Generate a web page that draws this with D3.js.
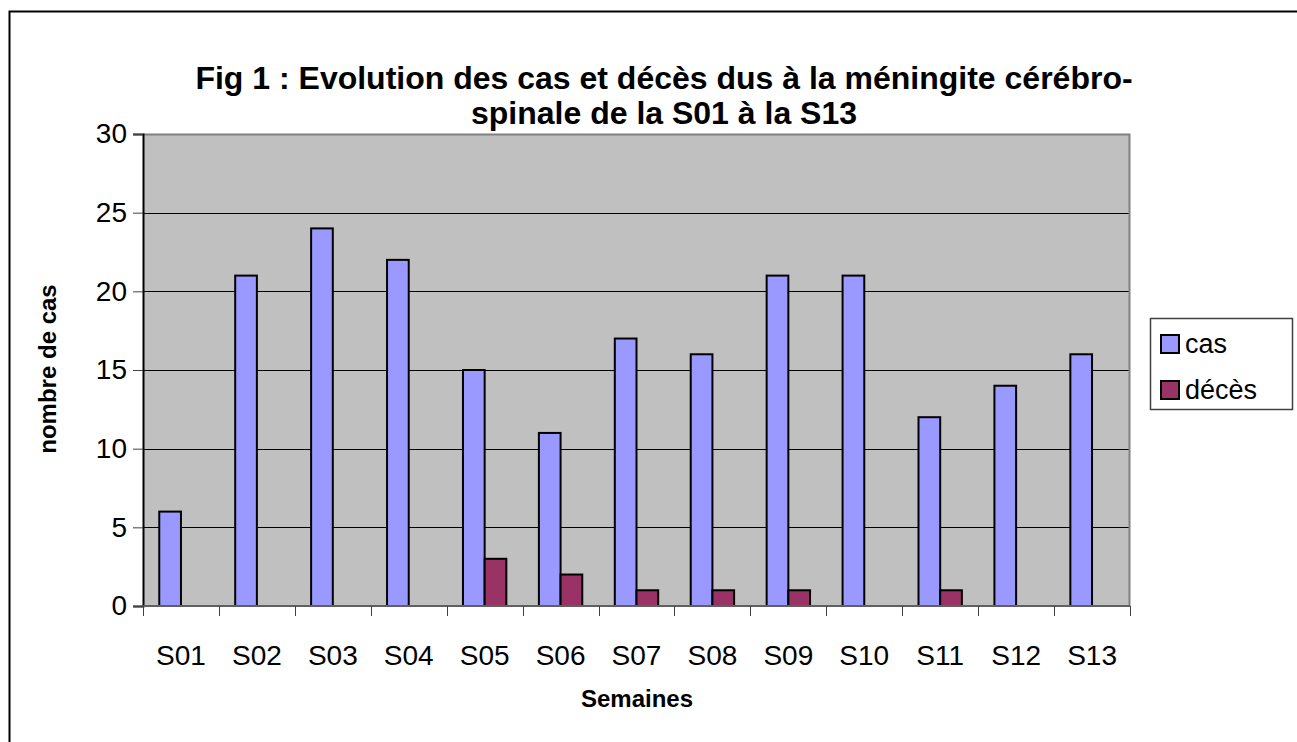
<!DOCTYPE html>
<html>
<head>
<meta charset="utf-8">
<script src="https://cdn.jsdelivr.net/npm/d3@7"></script>
<style>
  body { margin: 0; background: #fff; }
  text { font-family: Arial, "Liberation Sans", sans-serif; }
</style>
</head>
<body>
<div id="svg"></div>
<script>
var weeks = ['S01','S02','S03','S04','S05','S06','S07','S08','S09','S10','S11','S12','S13'];
var cas = [6, 21, 24, 22, 15, 11, 17, 16, 21, 21, 12, 14, 16];
var deces = [0, 0, 0, 0, 3, 2, 1, 1, 1, 0, 1, 0, 0];
var seriesNames = ['cas', 'décès'];
var yTicks = [0, 5, 10, 15, 20, 25, 30];

var w = 1297, h = 742;
var plot = { left: 143, right: 1130, top: 134, bottom: 606 };
var colors = ['#9999FF', '#993366'];

const svg = d3.select('#svg').append('svg')
  .attr('width', w).attr('height', h);

// outer frame
svg.append('rect')
  .attr('x', 9.5).attr('y', 11.5)
  .attr('width', 1300).attr('height', 760)
  .attr('fill', 'white').attr('stroke', 'black').attr('stroke-width', 2);

var x = d3.scaleBand().domain(weeks).range([plot.left, plot.right]).paddingInner(0).paddingOuter(0);
var y = d3.scaleLinear().domain([0, 30]).range([plot.bottom, plot.top]);

// bar width per Excel gap width 150%
var barW = x.bandwidth() / 3.5;
var x1 = d3.scaleBand().domain(seriesNames).range([0, 2 * barW]);

svg.append('rect')
  .attr('x', plot.left).attr('y', plot.top)
  .attr('width', plot.right - plot.left).attr('height', plot.bottom - plot.top)
  .attr('fill', '#C0C0C0');

// gridlines
svg.append('g').selectAll('line')
  .data(yTicks.filter(d => d > 0 && d < 30))
  .enter().append('line')
  .attr('x1', plot.left).attr('x2', plot.right)
  .attr('y1', d => Math.round(y(d)) + 0.5).attr('y2', d => Math.round(y(d)) + 0.5)
  .attr('stroke', 'black').attr('stroke-width', 1);

// plot border top/right
svg.append('path')
  .attr('d', `M${plot.left},${plot.top + 0.5}H${plot.right - 0.5}V${plot.bottom}`)
  .attr('fill', 'none').attr('stroke', '#808080').attr('stroke-width', 2);

var rows = weeks.map((wk, i) => ({ week: wk, values: [cas[i], deces[i]] }));

var groups = svg.append('g').selectAll('g')
  .data(rows).enter().append('g')
  .attr('transform', d => `translate(${x(d.week) + 1.5 * barW / 2},0)`);

groups.selectAll('rect')
  .data(d => d.values.map((v, j) => ({ key: seriesNames[j], v: v, j: j })).filter(e => e.v > 0))
  .enter().append('rect')
  .attr('x', d => x1(d.key))
  .attr('y', d => y(d.v))
  .attr('width', barW)
  .attr('height', d => y(0) - y(d.v))
  .attr('fill', d => colors[d.j])
  .attr('stroke', 'black').attr('stroke-width', 2);

// axes
var yAxis = svg.append('g')
  .attr('transform', `translate(${plot.left},0)`)
  .call(d3.axisLeft(y).tickValues(yTicks).tickSize(10).tickPadding(6));
yAxis.select('.domain').attr('stroke', 'black').attr('stroke-width', 2);
yAxis.selectAll('.tick line').attr('stroke', '#404040');
yAxis.selectAll('text').attr('font-size', 28).attr('fill', 'black');

var xAxis = svg.append('g')
  .attr('transform', `translate(0,${plot.bottom})`)
  .call(d3.axisBottom(x).tickSize(0).tickPadding(0));
xAxis.select('.domain').remove();
xAxis.selectAll('text').attr('font-size', 28).attr('fill', 'black').attr('dy', null).attr('y', 59);
svg.append('line')
  .attr('x1', plot.left).attr('x2', plot.right)
  .attr('y1', plot.bottom).attr('y2', plot.bottom)
  .attr('stroke', '#606060').attr('stroke-width', 2);
svg.append('g').selectAll('line')
  .data(weeks.concat(['end']))
  .enter().append('line')
  .attr('x1', (d, i) => Math.round(plot.left + i * x.bandwidth()) + 0.5)
  .attr('x2', (d, i) => Math.round(plot.left + i * x.bandwidth()) + 0.5)
  .attr('y1', plot.bottom).attr('y2', plot.bottom + 10)
  .attr('stroke', '#404040');

// titles
var title = svg.append('text')
  .attr('text-anchor', 'middle')
  .attr('font-size', 32).attr('font-weight', 'bold');
title.append('tspan').attr('x', 664).attr('y', 89).text('Fig 1 : Evolution des cas et décès dus à la méningite cérébro-');
title.append('tspan').attr('x', 664).attr('y', 124).text('spinale de la S01 à la S13');

svg.append('text')
  .attr('text-anchor', 'middle')
  .attr('x', 637).attr('y', 707)
  .attr('font-size', 24).attr('font-weight', 'bold')
  .text('Semaines');

svg.append('text')
  .attr('transform', 'rotate(-90)')
  .attr('text-anchor', 'middle')
  .attr('x', -369).attr('y', 56)
  .attr('font-size', 24).attr('font-weight', 'bold')
  .text('nombre de cas');

// legend
var lg = svg.append('g').attr('transform', 'translate(1150,318)');
lg.append('rect')
  .attr('x', 0.5).attr('y', 0.5).attr('width', 142).attr('height', 91)
  .attr('fill', 'white').attr('stroke', '#404040').attr('stroke-width', 1.5);
var items = lg.selectAll('g.item').data(seriesNames).enter().append('g')
  .attr('transform', (d, i) => `translate(0,${25 + i * 46})`);
items.append('rect')
  .attr('x', 11).attr('y', -8).attr('width', 18).attr('height', 18)
  .attr('fill', (d, i) => colors[i]).attr('stroke', 'black').attr('stroke-width', 2);
items.append('text')
  .attr('x', 35).attr('y', 1).attr('dy', '0.35em')
  .attr('font-size', 27)
  .text(d => d);
</script>
</body>
</html>
